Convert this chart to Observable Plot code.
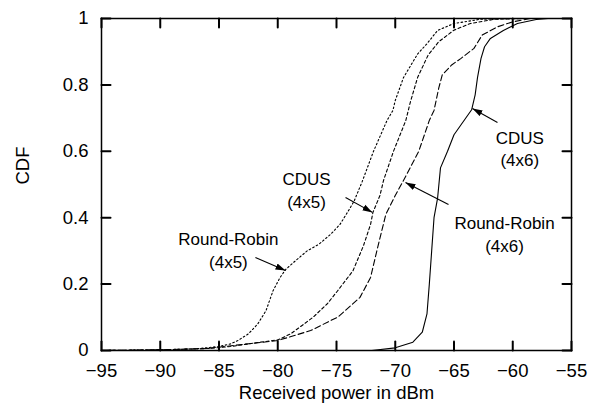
<!DOCTYPE html>
<html><head><meta charset="utf-8">
<script src="https://cdn.jsdelivr.net/npm/d3@7"></script>
<script src="https://cdn.jsdelivr.net/npm/@observablehq/plot@0.6"></script>
<style>body{margin:0;background:#fff}</style>
</head><body><div id="chart"></div>
<script>
// Received power (dBm) and CDF values
const rr45X = [-95, -90, -87, -85, -84, -83.4, -82.5, -81.7, -81, -80.4, -79.8, -79.3, -78.5, -77.5, -76.5, -75.5, -74.7, -74, -73.5, -72.8, -71.85, -70.7, -70.2, -70, -69.3, -68.1, -67.3, -66.4, -65, -62.7, -60];
const rr45Y = [0, 0.002, 0.005, 0.012, 0.02, 0.03, 0.05, 0.08, 0.12, 0.18, 0.22, 0.245, 0.27, 0.3, 0.32, 0.35, 0.38, 0.42, 0.45, 0.51, 0.6, 0.693, 0.723, 0.753, 0.822, 0.893, 0.924, 0.964, 0.985, 0.998, 1];

const cdus45X = [-95, -90, -86, -84, -81.7, -80, -78.9, -77, -75.8, -74.9, -73.6, -72.7, -72.1, -71.9, -71.3, -71, -70.15, -69.1, -68.7, -68.1, -67.2, -66.3, -65, -63.6, -61.5, -59];
const cdus45Y = [0, 0.002, 0.006, 0.012, 0.024, 0.032, 0.05, 0.1, 0.14, 0.18, 0.24, 0.316, 0.38, 0.416, 0.467, 0.512, 0.6, 0.693, 0.75, 0.822, 0.89, 0.93, 0.965, 0.985, 0.998, 1];

const rr46X = [-95, -90, -86, -83.8, -80, -77.2, -75.5, -74.9, -73, -72.7, -72.1, -71.5, -70.8, -70, -69.3, -68, -67.1, -66.7, -66.3, -66, -65.2, -64.4, -63.3, -62.6, -61.3, -60, -58.5];
const rr46Y = [0, 0.002, 0.006, 0.015, 0.03, 0.06, 0.09, 0.1, 0.16, 0.18, 0.22, 0.31, 0.41, 0.467, 0.512, 0.6, 0.693, 0.723, 0.79, 0.83, 0.86, 0.88, 0.91, 0.95, 0.975, 0.99, 1];

const cdus46X = [-95, -72, -70, -68.5, -67.7, -67.3, -67.1, -66.9, -66.7, -66.4, -66.15, -65.55, -65, -64.4, -63.5, -63.2, -63, -62.7, -62.4, -61.9, -60.8, -59.6, -58, -57, -55];
const cdus46Y = [0, 0, 0.008, 0.025, 0.055, 0.11, 0.2, 0.3, 0.4, 0.458, 0.55, 0.6, 0.65, 0.68, 0.725, 0.77, 0.822, 0.88, 0.915, 0.94, 0.964, 0.985, 0.997, 1, 1];

const xTicks = [-95, -90, -85, -80, -75, -70, -65, -60, -55];
const yTicks = [0, 0.2, 0.4, 0.6, 0.8, 1];
const yTickLabels = ["0", "0.2", "0.4", "0.6", "0.8", "1"];
const xLabel = "Received power in dBm";
const yLabel = "CDF";

// annotation labels: text, label anchor (x, y), arrow start, arrow tip
const annText = ["Round-Robin\n(4x5)", "CDUS\n(4x5)", "Round-Robin\n(4x6)", "CDUS\n(4x6)"];
const annX = [-84.2, -77.55, -60.7, -59.4];
const annY = [0.306, 0.485, 0.354, 0.611];
const arrX1 = [-81.9, -74.23, -65.47, -61.3];
const arrY1 = [0.28, 0.461, 0.44, 0.687];
const arrX2 = [-79.34, -71.94, -69.13, -63.43];
const arrY2 = [0.241, 0.416, 0.506, 0.729];

const W = 595, H = 407, mL = 101, mR = 24, mT = 18, mB = 57, tickPx = 9;

const toRows = (xs, ys) => xs.map((x, i) => ({x, y: ys[i]}));
const ann = annText.map((t, i) => ({t, x: annX[i], y: annY[i], x1: arrX1[i], y1: arrY1[i], x2: arrX2[i], y2: arrY2[i]}));
const fmtX = d => d < 0 ? "\u2212" + (-d) : String(d);
const fmtY = d => yTickLabels[yTicks.indexOf(d)];
const [xMin, xMax] = [xTicks[0], xTicks[xTicks.length - 1]];
const [yMin, yMax] = [yTicks[0], yTicks[yTicks.length - 1]];
// tick length in pixels expressed in each scale's units
const tY = tickPx / (H - mT - mB) * (yMax - yMin);
const tX = tickPx / (W - mL - mR) * (xMax - xMin);
// each inward tick as a two-point segment, grouped by k
const tickRows = [];
xTicks.forEach((v, i) => {
  tickRows.push({x: v, y: yMin, k: "b" + i}, {x: v, y: yMin + tY, k: "b" + i});
  tickRows.push({x: v, y: yMax, k: "t" + i}, {x: v, y: yMax - tY, k: "t" + i});
});
yTicks.forEach((v, i) => {
  tickRows.push({x: xMin, y: v, k: "l" + i}, {x: xMin + tX, y: v, k: "l" + i});
  tickRows.push({x: xMax, y: v, k: "r" + i}, {x: xMax - tX, y: v, k: "r" + i});
});

function headMarker(color) {
  const ns = "http://www.w3.org/2000/svg";
  const m = document.createElementNS(ns, "marker");
  m.setAttribute("viewBox", "-10 -4 10 8");
  m.setAttribute("markerWidth", "10");
  m.setAttribute("markerHeight", "8");
  m.setAttribute("markerUnits", "userSpaceOnUse");
  m.setAttribute("refX", "0");
  m.setAttribute("refY", "0");
  m.setAttribute("orient", "auto");
  const p = document.createElementNS(ns, "path");
  p.setAttribute("d", "M-10,-3.2L0,0L-10,3.2Z");
  p.setAttribute("fill", "black");
  p.setAttribute("stroke", "none");
  m.appendChild(p);
  return m;
}

const chart = Plot.plot({
  width: W,
  height: H,
  marginLeft: mL,
  marginRight: mR,
  marginTop: mT,
  marginBottom: mB,
  style: {fontFamily: "'Liberation Sans', Arial, sans-serif", fontSize: "18.5px", color: "black", background: "white"},
  x: {domain: [xMin, xMax]},
  y: {domain: [yMin, yMax]},
  marks: [
    Plot.line(toRows(rr45X, rr45Y), {x: "x", y: "y", stroke: "black", strokeWidth: 1.1, strokeDasharray: "1.6,2.4"}),
    Plot.line(toRows(cdus45X, cdus45Y), {x: "x", y: "y", stroke: "black", strokeWidth: 1.1, strokeDasharray: "3,2.5"}),
    Plot.line(toRows(rr46X, rr46Y), {x: "x", y: "y", stroke: "black", strokeWidth: 1.1, strokeDasharray: "6,3"}),
    Plot.line(toRows(cdus46X, cdus46Y), {x: "x", y: "y", stroke: "black", strokeWidth: 1.1}),
    // inward ticks on all four sides
    Plot.line(tickRows, {x: "x", y: "y", z: "k", stroke: "black", strokeWidth: 2}),
    Plot.axisX({anchor: "bottom", ticks: xTicks, tickSize: 0, tickPadding: 13, tickFormat: fmtX, label: null, fill: "black"}),
    Plot.axisY({anchor: "left", ticks: yTicks, tickSize: 0, tickPadding: 13, tickFormat: fmtY, label: null, fill: "black"}),
    Plot.frame({stroke: "black", strokeWidth: 1.5}),
    Plot.text([xLabel], {frameAnchor: "bottom", dy: 48, text: d => d, fill: "black"}),
    Plot.text([yLabel], {frameAnchor: "left", dx: -78.5, rotate: -90, text: d => d, fill: "black"}),
    Plot.link(ann, {x1: "x1", y1: "y1", x2: "x2", y2: "y2", stroke: "black", strokeWidth: 1.1, markerEnd: headMarker}),
    Plot.text(ann, {x: "x", y: "y", text: "t", fontSize: 17, lineHeight: 1.35, fill: "black"})
  ]
});
document.getElementById("chart").appendChild(chart);
</script></body></html>
